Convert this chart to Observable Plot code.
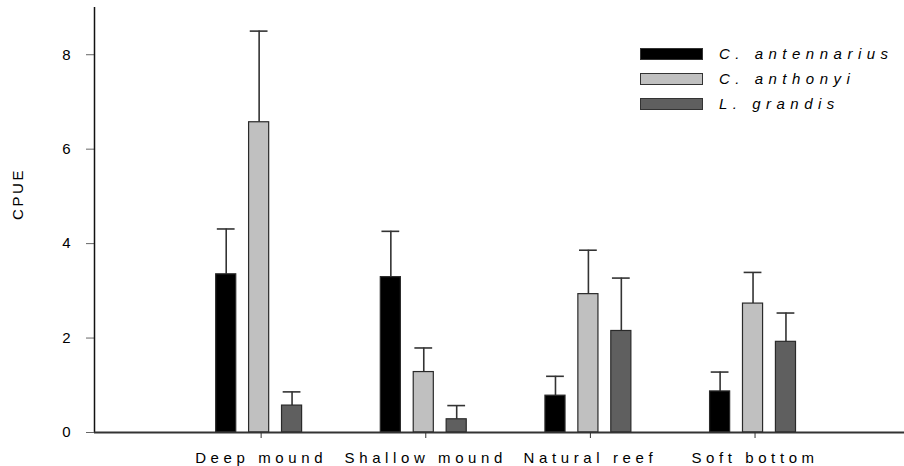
<!DOCTYPE html>
<html>
<head>
<meta charset="utf-8">
<script src="https://cdn.jsdelivr.net/npm/d3@7"></script>
<script src="https://cdn.jsdelivr.net/npm/@observablehq/plot@0.6"></script>
<style>
  html, body { margin: 0; padding: 0; background: #fff; }
  #wrap { position: relative; width: 904px; height: 466px; font-family: "Liberation Sans", Arial, sans-serif; }
  #wrap svg { font-family: "Liberation Sans", Arial, sans-serif; }
  #legend { position: absolute; left: 640px; top: 41px; }
  #legend .row { display: flex; align-items: center; height: 25px; }
  #legend .sw { width: 61px; height: 10px; border: 1px solid #333; margin-right: 16px; }
  #legend .lb { font-style: italic; font-size: 15px; letter-spacing: 5.5px; color: #000; }
</style>
</head>
<body>
<div id="wrap"></div>
<script>
// Habitat types along the x axis (positions 1..4)
const sites = ["Deep mound", "Shallow mound", "Natural reef", "Soft bottom"];
const species = ["C. antennarius", "C. anthonyi", "L. grandis"];
const colors = ["#000000", "#c0c0c0", "#5f5f5f"];

// Mean CPUE per habitat, one array per species
const antennariusMean = [3.35, 3.29, 0.78, 0.87];
const anthonyiMean    = [6.57, 1.28, 2.93, 2.73];
const grandisMean     = [0.57, 0.28, 2.15, 1.92];

// Upper error (standard error) per habitat
const antennariusErr = [0.96, 0.97, 0.41, 0.41];
const anthonyiErr    = [1.93, 0.51, 0.93, 0.66];
const grandisErr     = [0.29, 0.29, 1.12, 0.61];

const yTicks = [0, 2, 4, 6, 8];
const yTitle = "CPUE";

const means = [antennariusMean, anthonyiMean, grandisMean];
const errs = [antennariusErr, anthonyiErr, grandisErr];
const offsets = [-0.2, 0, 0.2];   // bar offset within a habitat group
const halfBar = 0.061;            // half bar width, x units
const halfCap = 0.054;            // half error-cap width, x units

const rows = [];
sites.forEach((site, i) => {
  species.forEach((sp, s) => {
    const cx = i + 1 + offsets[s];
    rows.push({
      site, species: sp, cx,
      x1: cx - halfBar, x2: cx + halfBar,
      value: means[s][i], top: means[s][i] + errs[s][i],
      fill: colors[s]
    });
  });
});

const chart = Plot.plot({
  width: 904,
  height: 466,
  marginLeft: 94,
  marginRight: 0,
  marginTop: 7,
  marginBottom: 34,
  style: { fontFamily: "Liberation Sans, Arial, sans-serif", fontSize: "15px", color: "#000", background: "#fff" },
  x: { type: "linear", domain: [0, 4.92], axis: null },
  y: { domain: [0, 9], axis: null },
  marks: [
    // error whiskers
    Plot.ruleX(rows, { x: "cx", y1: "value", y2: "top", stroke: "#333", strokeWidth: 1.6 }),
    Plot.ruleY(rows, { y: "top", x1: d => d.cx - halfCap, x2: d => d.cx + halfCap, stroke: "#333", strokeWidth: 1.6 }),
    // bars
    Plot.rectY(rows, { x1: "x1", x2: "x2", y1: 0, y2: "value", fill: "fill", stroke: "#2a2a2a", strokeWidth: 1.2 }),
    // y axis
    Plot.axisY({
      ticks: yTicks, tickSize: 8, tickPadding: 16, stroke: "#666",
      fontSize: 15, label: null
    }),
    Plot.ruleX([0], { y1: 0, y2: 9, stroke: "#111", strokeWidth: 1.5 }),
    Plot.text([yTitle], {
      frameAnchor: "left", dx: -76, rotate: -90, fontSize: 15
    }),
    // x axis
    Plot.ruleY([0], { stroke: "#333", strokeWidth: 2 }),
    Plot.axisX({
      ticks: [1, 2, 3, 4], tickFormat: d => sites[d - 1],
      tickSize: 6, tickPadding: 14, stroke: "#333", fontSize: 15,
      label: null, dx: 2
    })
  ]
});

const wrap = document.getElementById("wrap");
wrap.appendChild(chart);

// text styling: size and letter spacing
d3.select(chart).selectAll("text").each(function () {
  const t = this.textContent;
  this.setAttribute("font-size", "15");
  this.style.fontSize = "15px";
  if (sites.includes(t)) this.style.letterSpacing = "4.6px";
  if (t === yTitle) this.style.letterSpacing = "2.6px";
});

// legend
const legend = document.createElement("div");
legend.id = "legend";
species.forEach((sp, s) => {
  const row = document.createElement("div");
  row.className = "row";
  const sw = document.createElement("div");
  sw.className = "sw";
  sw.style.background = colors[s];
  const lb = document.createElement("span");
  lb.className = "lb";
  lb.textContent = sp;
  row.appendChild(sw);
  row.appendChild(lb);
  legend.appendChild(row);
});
wrap.appendChild(legend);
</script>
</body>
</html>
